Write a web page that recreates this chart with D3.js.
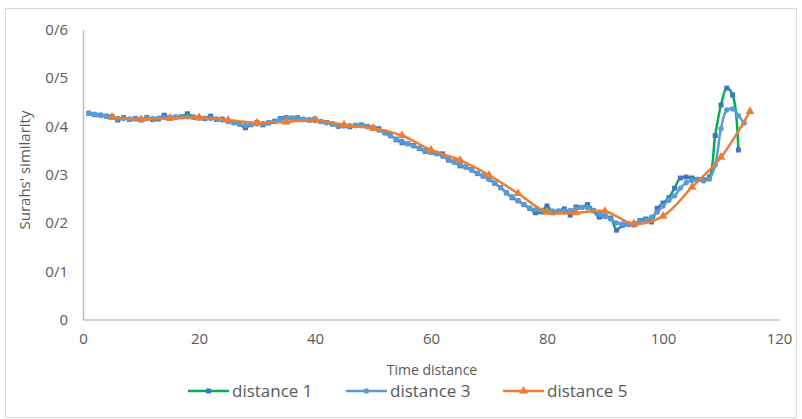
<!DOCTYPE html>
<html><head><meta charset="utf-8">
<script src="https://cdn.jsdelivr.net/npm/d3@7"></script>
<style>body{margin:0;background:#fff}svg{display:block}text{font-family:"Open Sans",sans-serif;fill:#595959}</style>
</head><body><svg id="c" width="802" height="419"></svg>
<script>
const yTicks = [0,0.1,0.2,0.3,0.4,0.5,0.6];
const yTickLabels = ["0","0/1","0/2","0/3","0/4","0/5","0/6"];
const xTicks = [0,20,40,60,80,100,120];
const seriesNames = ["distance 1","distance 3","distance 5"];

const d1X = d3.range(1,114);
const d1Y = [0.427,0.424,0.423,0.421,0.420,0.413,0.418,0.414,0.416,0.413,
0.418,0.414,0.415,0.423,0.417,0.419,0.420,0.426,0.419,0.417,
0.416,0.421,0.414,0.415,0.411,0.408,0.404,0.397,0.404,0.408,
0.403,0.407,0.410,0.416,0.418,0.417,0.418,0.414,0.413,0.415,
0.410,0.408,0.405,0.400,0.401,0.399,0.402,0.403,0.400,0.397,
0.395,0.388,0.382,0.372,0.366,0.364,0.360,0.354,0.348,0.346,
0.344,0.343,0.330,0.326,0.318,0.316,0.310,0.302,0.297,0.292,
0.282,0.273,0.262,0.252,0.246,0.238,0.230,0.221,0.223,0.235,
0.221,0.224,0.229,0.216,0.233,0.232,0.238,0.225,0.212,0.214,
0.210,0.185,0.195,0.197,0.196,0.205,0.208,0.202,0.230,0.241,
0.252,0.272,0.293,0.295,0.293,0.290,0.289,0.295,0.381,0.444,
0.479,0.465,0.351];

const d3X = d3.range(1,115);
const d3Y = [0.427,0.425,0.423,0.421,0.418,0.416,0.416,0.415,0.415,0.415,
0.416,0.416,0.417,0.418,0.419,0.419,0.420,0.420,0.419,0.418,
0.417,0.416,0.415,0.413,0.410,0.407,0.404,0.402,0.403,0.405,
0.406,0.408,0.411,0.414,0.416,0.417,0.417,0.415,0.413,0.412,
0.410,0.407,0.404,0.402,0.401,0.401,0.401,0.401,0.399,0.396,
0.392,0.386,0.380,0.374,0.369,0.364,0.359,0.355,0.350,0.346,
0.343,0.338,0.332,0.326,0.321,0.315,0.309,0.303,0.297,0.290,
0.282,0.273,0.263,0.254,0.246,0.238,0.231,0.227,0.226,0.226,
0.225,0.225,0.225,0.226,0.229,0.232,0.232,0.226,0.218,0.213,
0.208,0.200,0.198,0.199,0.200,0.203,0.205,0.212,0.222,0.235,
0.247,0.256,0.272,0.283,0.288,0.289,0.287,0.291,0.320,0.395,
0.434,0.436,0.422,0.407];

const d5X = [5,10,15,20,25,30,35,40,45,50,55,60,65,70,75,80,85,90,95,100,105,110,115];
const d5Y = [0.419,0.414,0.417,0.418,0.413,0.407,0.409,0.413,0.403,0.396,0.381,0.351,0.330,0.299,0.261,0.222,0.221,0.224,0.198,0.214,0.274,0.336,0.431];

const svg = d3.select("#c");
svg.append("rect").attr("x",5.5).attr("y",8.5).attr("width",791).attr("height",409)
  .attr("fill","#fff").attr("stroke","#d9d9d9");

const x = d3.scaleLinear().domain([0,120]).range([83,779]);
const y = d3.scaleLinear().domain([0,0.6]).range([319.5,29.7]);

const xAxis = svg.append("g").attr("transform","translate(0,319.5)")
  .call(d3.axisBottom(x).tickValues(xTicks).tickSize(0).tickPadding(14));
xAxis.select(".domain").attr("stroke","#bfbfbf").attr("stroke-width",1.5);
xAxis.selectAll("text").attr("font-size",15).style("fill","#595959").attr("font-family","Open Sans");

const yAxis = svg.append("g").attr("transform","translate(83,0)")
  .call(d3.axisLeft(y).tickValues(yTicks).tickFormat((d,i)=>yTickLabels[i]).tickSize(0).tickPadding(15));
yAxis.select(".domain").attr("stroke","#bfbfbf").attr("stroke-width",1.5);
yAxis.selectAll("text").attr("font-size",15).style("fill","#595959").attr("font-family","Open Sans");

svg.append("text").attr("transform","translate(30,170) rotate(-90)").attr("text-anchor","middle")
  .attr("font-size",15).text("Surahs' similarity");
svg.append("text").attr("x",432).attr("y",375).attr("text-anchor","middle")
  .attr("font-size",14).text("Time distance");

const curve = d3.curveCatmullRom.alpha(0.5);
const line = d3.line().x(d=>x(d[0])).y(d=>y(d[1])).curve(curve);
const s1 = d1X.map((v,i)=>[v,d1Y[i]]);
const s3 = d3X.map((v,i)=>[v,d3Y[i]]);
const s5 = d5X.map((v,i)=>[v,d5Y[i]]);

const tri = d3.symbol().type(d3.symbolTriangle).size(34);

svg.append("path").datum(s1).attr("d",line).attr("fill","none").attr("stroke","#00B050").attr("stroke-width",2.5);
svg.append("g").selectAll("rect").data(s1).join("rect")
  .attr("x",d=>x(d[0])-2.5).attr("y",d=>y(d[1])-2.5).attr("width",5).attr("height",5).attr("fill","#4472C4");
svg.append("path").datum(s3).attr("d",line).attr("fill","none").attr("stroke","#5B9BD5").attr("stroke-width",2.5);
svg.append("g").selectAll("circle").data(s3).join("circle")
  .attr("cx",d=>x(d[0])).attr("cy",d=>y(d[1])).attr("r",2.7).attr("fill","#5B9BD5");
svg.append("path").datum(s5).attr("d",line).attr("fill","none").attr("stroke","#ED7D31").attr("stroke-width",2.5);
svg.append("g").selectAll("path").data(s5).join("path")
  .attr("transform",d=>`translate(${x(d[0])},${y(d[1])})`).attr("d",tri).attr("fill","#ED7D31");

const lg = [{x:188,c:"#00B050",m:"#4472C4",t:"sq"},{x:346,c:"#5B9BD5",m:"#5B9BD5",t:"ci"},{x:503,c:"#ED7D31",m:"#ED7D31",t:"tr"}];
lg.forEach((l,i)=>{
  const g = svg.append("g");
  g.append("line").attr("x1",l.x).attr("x2",l.x+41).attr("y1",391).attr("y2",391).attr("stroke",l.c).attr("stroke-width",2.5);
  const cx = l.x+20.5;
  if(l.t==="sq") g.append("rect").attr("x",cx-2.5).attr("y",388.5).attr("width",5).attr("height",5).attr("fill",l.m);
  else if(l.t==="ci") g.append("circle").attr("cx",cx).attr("cy",391).attr("r",2.7).attr("fill",l.m);
  else g.append("path").attr("transform",`translate(${cx},391)`).attr("d",tri).attr("fill",l.m);
  g.append("text").attr("x",l.x+44).attr("y",397).attr("font-size",17).text(seriesNames[i]);
});
</script></body></html>
